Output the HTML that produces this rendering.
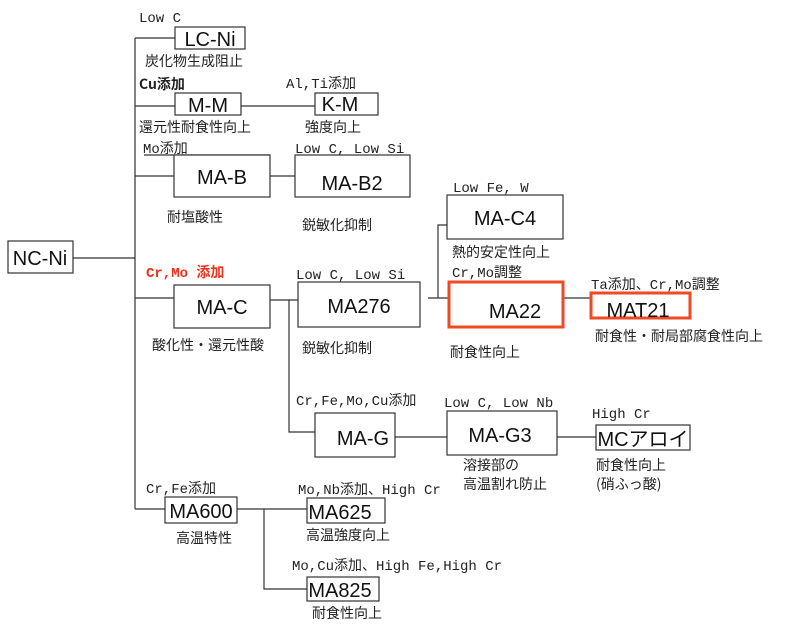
<!DOCTYPE html>
<html><head><meta charset="utf-8"><style>
html,body{margin:0;padding:0;background:#fff;}
svg{display:block}
.b{fill:#fff;stroke:#333;stroke-width:1.2}
.r{fill:#fff;stroke:#f04a24;stroke-width:3}
.l{stroke:#333;stroke-width:1.2;fill:none}
.t{font-family:"Liberation Sans","Noto Sans CJK JP",sans-serif;font-size:20px;fill:#111;text-anchor:middle}
.m{font-family:"Liberation Mono","Noto Sans CJK JP",monospace;font-size:14px;fill:#222}
.j{font-family:"Noto Sans CJK JP",sans-serif;font-size:14px;fill:#222}
</style></head><body>
<svg width="793" height="633" viewBox="0 0 793 633">
<path class="l" d="M73 258H135M135 38V509M135 38H175M135 106H175M241 106H315M135 176H174M270 176H295M144 155H270M135 298H174M270 300H298M289 300V432H315M428 298H448M438 298V225H447M563 298H590M395 437H447M557 437H596M135 509H165M237 509H307M264 509V589H307"/>
<rect class="b" x="8" y="241" width="65" height="32"/><text class="t" x="40" y="265">NC-Ni</text>
<rect class="b" x="175" y="27" width="70" height="22"/><text class="t" x="210" y="46">LC-Ni</text>
<rect class="b" x="175" y="93" width="66" height="22"/><text class="t" x="208" y="112">M-M</text>
<rect class="b" x="315" y="93" width="63" height="22"/><text class="t" x="340" y="111">K-M</text>
<rect class="b" x="174" y="155" width="96" height="42"/><text class="t" x="222" y="184">MA-B</text>
<rect class="b" x="295" y="155" width="115" height="42"/><text class="t" x="352" y="190">MA-B2</text>
<rect class="b" x="447" y="195" width="116" height="44"/><text class="t" x="505" y="225">MA-C4</text>
<rect class="b" x="174" y="285" width="96" height="43"/><text class="t" x="222" y="314">MA-C</text>
<rect class="b" x="298" y="282" width="122" height="45"/><text class="t" x="359" y="313">MA276</text>
<rect class="r" x="449" y="282" width="114" height="45"/><text class="t" x="515" y="318">MA22</text>
<rect class="r" x="591" y="293" width="99" height="25"/><text class="t" x="638" y="317">MAT21</text>
<rect class="b" x="315" y="413" width="80" height="44"/><text class="t" x="363" y="445">MA-G</text>
<rect class="b" x="447" y="411" width="110" height="44"/><text class="t" x="500" y="442">MA-G3</text>
<rect class="b" x="596" y="425" width="94" height="25"/><text class="t" x="643" y="446">MCアロイ</text>
<rect class="b" x="165" y="497" width="72" height="26"/><text class="t" x="201" y="518">MA600</text>
<rect class="b" x="307" y="498" width="78" height="25"/><text class="t" x="340" y="519">MA625</text>
<rect class="b" x="307" y="577" width="72" height="24"/><text class="t" x="340" y="597">MA825</text>
<text class="m" x="139" y="22">Low C</text>
<text class="j" x="145" y="66">炭化物生成阻止</text>
<text class="j" x="139" y="89" style="font-weight:bold">Cu添加</text>
<text class="m" x="286" y="88">Al,Ti添加</text>
<text class="j" x="139" y="132">還元性耐食性向上</text>
<text class="j" x="305" y="132">強度向上</text>
<text class="m" x="143" y="153">Mo添加</text>
<text class="m" x="295" y="153">Low C, Low Si</text>
<text class="j" x="167" y="222">耐塩酸性</text>
<text class="j" x="302" y="230">鋭敏化抑制</text>
<text class="m" x="453" y="192">Low Fe, W</text>
<text class="j" x="452" y="257">熱的安定性向上</text>
<text class="m" x="452" y="277">Cr,Mo調整</text>
<text class="m" x="146" y="277" style="fill:#f03018;font-weight:bold">Cr,Mo 添加</text>
<text class="m" x="296" y="279">Low C, Low Si</text>
<text class="m" x="591" y="289">Ta添加、Cr,Mo調整</text>
<text class="j" x="152" y="350">酸化性・還元性酸</text>
<text class="j" x="302" y="353">鋭敏化抑制</text>
<text class="j" x="450" y="357">耐食性向上</text>
<text class="j" x="595" y="341">耐食性・耐局部腐食性向上</text>
<text class="m" x="296" y="405">Cr,Fe,Mo,Cu添加</text>
<text class="m" x="444" y="407">Low C, Low Nb</text>
<text class="m" x="592" y="418">High Cr</text>
<text class="j" x="463" y="470">溶接部の</text>
<text class="j" x="463" y="489">高温割れ防止</text>
<text class="j" x="596" y="470">耐食性向上</text>
<text class="j" x="596" y="489">(硝ふっ酸)</text>
<text class="m" x="146" y="493">Cr,Fe添加</text>
<text class="m" x="298" y="494">Mo,Nb添加、High Cr</text>
<text class="j" x="176" y="543">高温特性</text>
<text class="j" x="306" y="540">高温強度向上</text>
<text class="m" x="292" y="570">Mo,Cu添加、High Fe,High Cr</text>
<text class="j" x="312" y="618">耐食性向上</text>
</svg>
</body></html>
